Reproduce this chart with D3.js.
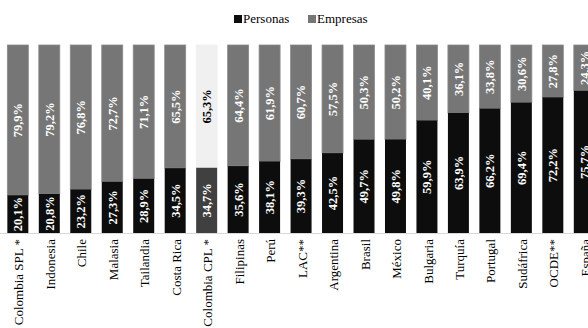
<!DOCTYPE html>
<html>
<head>
<meta charset="utf-8">
<script src="https://cdn.jsdelivr.net/npm/d3@7"></script>
<style>
  body { margin: 0; background: #fff; }
  text { font-family: "Liberation Serif", "Times New Roman", serif; }
</style>
</head>
<body>
<svg id="chart" width="588" height="328"></svg>
<script>
// Categories and series values (percent)
var countries = ["Colombia SPL *", "Indonesia", "Chile", "Malasia", "Tailandia", "Costa Rica",
  "Colombia CPL *", "Filipinas", "Perú", "LAC**", "Argentina", "Brasil", "México", "Bulgaria",
  "Turquía", "Portugal", "Sudáfrica", "OCDE**", "España"];
var personas = [20.1, 20.8, 23.2, 27.3, 28.9, 34.5, 34.7, 35.6, 38.1, 39.3, 42.5, 49.7, 49.8,
  59.9, 63.9, 66.2, 69.4, 72.2, 75.7];
var empresas = [79.9, 79.2, 76.8, 72.7, 71.1, 65.5, 65.3, 64.4, 61.9, 60.7, 57.5, 50.3, 50.2,
  40.1, 36.1, 33.8, 30.6, 27.8, 24.3];
var seriesNames = ["Personas", "Empresas"];
var highlight = "Colombia CPL *";

var svg = d3.select("#chart");

var x = d3.scaleBand()
    .domain(countries)
    .range([2.1, 2.1 + 19 * 31.47])
    .paddingInner(0.333)
    .paddingOuter(0.1665);

var y = d3.scaleLinear().domain([0, 100]).range([233, 45]);

var fmt = function(v) { return v.toFixed(1).replace(".", ",") + "%"; };

var data = countries.map(function(c, i) {
  return { country: c, personas: personas[i], empresas: empresas[i] };
});

// bottom axis line
svg.append("line")
    .attr("x1", 0).attr("x2", 588)
    .attr("y1", y(0) + 0.5).attr("y2", y(0) + 0.5)
    .attr("stroke", "#d9d9d9");

var g = svg.append("g");

var bars = g.selectAll(".bar")
    .data(data)
    .enter().append("g")
    .attr("class", "bar");

// Empresas segment (top)
bars.append("rect")
    .attr("x", d => x(d.country))
    .attr("width", x.bandwidth())
    .attr("y", d => y(d.personas + d.empresas))
    .attr("height", d => y(d.personas) - y(d.personas + d.empresas))
    .attr("fill", d => d.country === highlight ? "#f0f0f0" : "#767676")
    .attr("stroke", d => d.country === highlight ? "#f0f0f0" : "#8a8a8a")
    .attr("stroke-width", 0.8);

// Personas segment (bottom)
bars.append("rect")
    .attr("x", d => x(d.country))
    .attr("width", x.bandwidth())
    .attr("y", d => y(d.personas))
    .attr("height", d => y(0) - y(d.personas))
    .attr("fill", d => d.country === highlight ? "#404040" : "#0d0d0d");

// value labels
function addLabel(sel, lo, hi, key, color) {
  sel.append("text")
      .attr("transform", function(d) {
        var cx = x(d.country) + x.bandwidth() / 2;
        var cy = (y(lo(d)) + y(hi(d))) / 2;
        return "translate(" + cx + "," + cy + ")rotate(-90)";
      })
      .attr("text-anchor", "middle")
      .attr("dy", "0.35em")
      .attr("font-size", "12.5px")
      .attr("font-weight", "bold")
      .attr("fill", color)
      .text(d => fmt(d[key]));
}
addLabel(bars, d => 0, d => d.personas, "personas", "#ffffff");
addLabel(bars, d => d.personas, d => d.personas + d.empresas, "empresas",
  d => d.country === highlight ? "#000000" : "#ffffff");

// category labels
svg.selectAll(".cat")
    .data(countries)
    .enter().append("text")
    .attr("class", "cat")
    .attr("transform", d => "translate(" + (x(d) + x.bandwidth() / 2 + 1) + ",239)rotate(-90)")
    .attr("text-anchor", "end")
    .attr("dy", "0.35em")
    .attr("font-size", "13px")
    .attr("fill", "#000")
    .text(d => d);

// legend
var legend = svg.append("g").attr("class", "legend");
var legendX = [234, 308];
var legendColors = ["#0d0d0d", "#767676"];
seriesNames.forEach(function(name, i) {
  legend.append("rect")
      .attr("x", legendX[i]).attr("y", 15)
      .attr("width", 8).attr("height", 8)
      .attr("fill", legendColors[i]);
  legend.append("text")
      .attr("x", legendX[i] + 9).attr("y", 23)
      .attr("font-size", "13px")
      .attr("fill", "#000")
      .text(name);
});
</script>
</body>
</html>
